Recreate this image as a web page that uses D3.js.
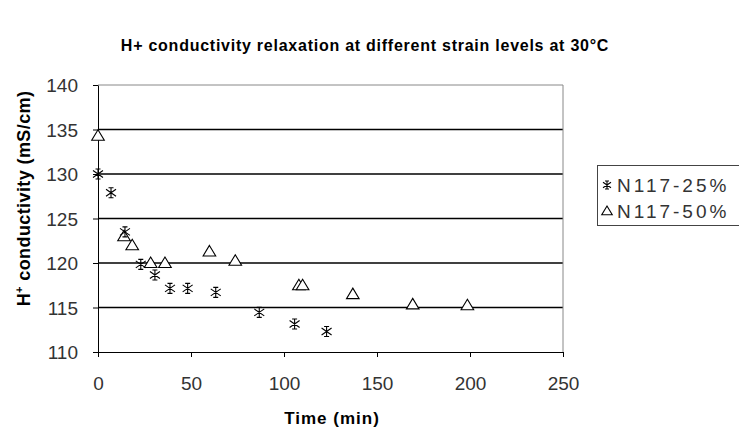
<!DOCTYPE html>
<html><head><meta charset="utf-8">
<script src="https://cdn.jsdelivr.net/npm/d3@7"></script>
<style>body{margin:0;background:#fff}svg{display:block}</style>
</head><body>
<script>
const titleText = "H+ conductivity relaxation at different strain levels at 30°C";
const seriesNames = ["N117-25%", "N117-50%"];
const t25 = [0, 7, 14.5, 23, 30.6, 38.7, 48.2, 63.3, 86.7, 105.7, 122.9];
const v25 = [130.0, 127.9, 123.5, 119.85, 118.65, 117.15, 117.15, 116.7, 114.45, 113.15, 112.3];
const t50 = [0, 14, 18.4, 28.3, 36, 59.9, 73.8, 108, 110, 137, 169.2, 198.6];
const v50 = [134.3, 123.0, 122.0, 120.0, 120.0, 121.3, 120.25, 117.5, 117.5, 116.5, 115.35, 115.25];
const xTicks = [0, 50, 100, 150, 200, 250];
const yTicks = [110, 115, 120, 125, 130, 135, 140];

const W = 739, H = 435;
const m = {l: 98, r: 563, t: 85, b: 352};
const svg = d3.select("body").append("svg").attr("width", W).attr("height", H);
const x = d3.scaleLinear().domain([0, 250]).range([m.l, m.r]);
const y = d3.scaleLinear().domain([110, 140]).range([m.b, m.t]);
const font = "'Liberation Sans', Arial, sans-serif";

// gridlines
svg.append("g").selectAll("line").data(yTicks.filter(d => d > 110 && d < 140)).join("line")
  .attr("x1", m.l).attr("x2", m.r).attr("y1", d => y(d)).attr("y2", d => y(d))
  .attr("stroke", "#000").attr("stroke-width", 1.3);
// plot border top/right
svg.append("path").attr("d", `M${m.l},${y(140)}H${m.r}V${m.b}`)
  .attr("fill", "none").attr("stroke", "#888").attr("stroke-width", 1);

// axes
const xa = svg.append("g").attr("transform", `translate(0,${m.b})`)
  .call(d3.axisBottom(x).tickValues(xTicks).tickSize(5).tickSizeOuter(0).tickPadding(20));
const ya = svg.append("g").attr("transform", `translate(${m.l},0)`)
  .call(d3.axisLeft(y).tickValues(yTicks).tickSize(5).tickSizeOuter(0).tickPadding(15));
[xa, ya].forEach(a => {
  a.select(".domain").attr("stroke", "#000").attr("stroke-width", 1);
  a.selectAll(".tick line").attr("stroke", "#000");
  a.selectAll("text").attr("font-family", font).attr("font-size", 19).attr("fill", "#333");
});
ya.selectAll("text").attr("dy", "0.35em");

// markers
const star = (g, s) => {
  g.append("path").attr("d",
    `M0,${-s}V${s}M${-s},${-s*0.7}L${s},${s*0.7}M${-s},${s*0.7}L${s},${-s*0.7}M${-s*0.5},${-s}H${s*0.5}M${-s*0.5},${s}H${s*0.5}`)
    .attr("stroke", "#000").attr("stroke-width", 1.1).attr("fill", "none");
};
const tri = (g, s) => {
  g.append("path").attr("d", `M0,${-s}L${s*1.05},${s*0.75}H${-s*1.05}Z`)
    .attr("stroke", "#000").attr("stroke-width", 1.1).attr("fill", "#fff");
};
const d25 = t25.map((t, i) => [t, v25[i]]);
const d50 = t50.map((t, i) => [t, v50[i]]);
svg.append("g").selectAll("g").data(d50).join("g")
  .attr("transform", d => `translate(${x(d[0])},${y(d[1])})`).each(function(){ tri(d3.select(this), 6); });
svg.append("g").selectAll("g").data(d25).join("g")
  .attr("transform", d => `translate(${x(d[0])},${y(d[1])})`).each(function(){ star(d3.select(this), 5); });

// titles
svg.append("text").attr("x", 365).attr("y", 51).attr("text-anchor", "middle")
  .attr("font-family", font).attr("font-weight", "bold").attr("font-size", 16)
  .attr("letter-spacing", 0.75).text(titleText);
svg.append("text").attr("x", 332).attr("y", 424).attr("text-anchor", "middle")
  .attr("font-family", font).attr("font-weight", "bold").attr("font-size", 17)
  .attr("letter-spacing", 1).text("Time (min)");
const yt = svg.append("text").attr("transform", `translate(30,${(m.t + m.b) / 2 - 20}) rotate(-90)`)
  .attr("text-anchor", "middle").attr("font-family", font).attr("font-weight", "bold").attr("font-size", 18)
  .attr("letter-spacing", 0.4);
yt.append("tspan").text("H");
yt.append("tspan").attr("dy", -7).attr("font-size", 11).text("+");
yt.append("tspan").attr("dy", 7).text(" conductivity (mS/cm)");

// legend
const lg = svg.append("g");
lg.append("rect").attr("x", 597.5).attr("y", 165.5).attr("width", 145).attr("height", 60)
  .attr("fill", "#fff").attr("stroke", "#444").attr("stroke-width", 1);
seriesNames.forEach((n, i) => {
  const cy = 185 + i * 26;
  const g = lg.append("g").attr("transform", `translate(607,${cy})`);
  if (i === 0) star(g, 4); else tri(g, 5);
  lg.append("text").attr("x", 617).attr("y", cy).attr("dy", "0.36em")
    .attr("font-family", font).attr("font-size", 19).attr("letter-spacing", 3)
    .attr("fill", "#333").text(n);
});
</script>
</body></html>
